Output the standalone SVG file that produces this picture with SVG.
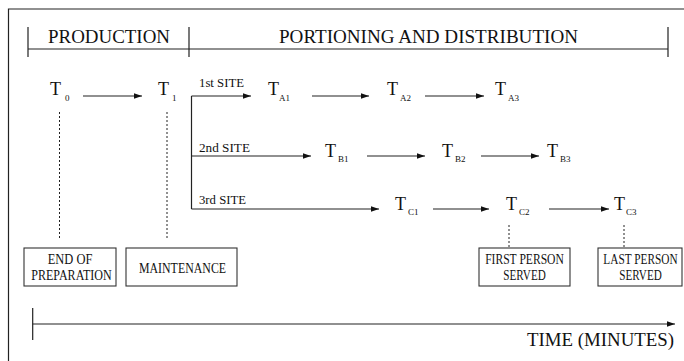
<svg xmlns="http://www.w3.org/2000/svg" width="684" height="361" viewBox="0 0 684 361">
<defs>
<marker id="ah" markerWidth="9" markerHeight="6" refX="8" refY="3" orient="auto" markerUnits="userSpaceOnUse">
<path d="M0,0.3 L8,3 L0,5.7 Z" fill="#111"/>
</marker>
<style>
text{font-family:"Liberation Serif","Times New Roman",serif;fill:#111}
.hd{font-size:18px}
.t{font-size:18px}
.s{font-size:9px}
.site{font-size:13px}
.bx{font-size:14.5px;text-anchor:middle}
.ln{stroke:#222;stroke-width:1.2;fill:none}
.ar{stroke:#222;stroke-width:1.2;fill:none;marker-end:url(#ah)}
.dash{stroke:#222;stroke-width:1;stroke-dasharray:2,2;fill:none}
.box{fill:#fff;stroke:#333;stroke-width:1.1}
</style>
</defs>
<rect width="684" height="361" fill="#fff"/>
<g id="frame">
<path class="ln" d="M8.5,361 V9 H684" stroke-width="1.5"/>
</g>
<g id="header">
<path class="ln" d="M28,27 V57 M189,27 V57 M668,27 V57 M28,49 H668" stroke="#555"/>
<text class="hd" x="48" y="43" textLength="122" lengthAdjust="spacingAndGlyphs">PRODUCTION</text>
<text class="hd" x="279" y="43" textLength="299" lengthAdjust="spacingAndGlyphs">PORTIONING AND DISTRIBUTION</text>
</g>
<g id="connectors">
<path class="ar" d="M83,96 H142"/>
<path class="ln" d="M191.5,96 V209"/>
<path class="ar" d="M191.5,96 H251"/>
<path class="ar" d="M312,96 H369"/>
<path class="ar" d="M425,96 H484"/>
<path class="ar" d="M191.5,156 H311"/>
<path class="ar" d="M367,156 H425"/>
<path class="ar" d="M481,156 H539"/>
<path class="ar" d="M191.5,209 H379"/>
<path class="ar" d="M433,209 H489"/>
<path class="ar" d="M549,209 H609"/>
<path class="dash" d="M59.5,112 V238"/>
<path class="dash" d="M167,112 V238"/>
<path class="dash" d="M509,225 V248"/>
<path class="dash" d="M624,225 V248"/>
<text class="site" x="199" y="87" textLength="45" lengthAdjust="spacingAndGlyphs">1st SITE</text>
<text class="site" x="199" y="152" textLength="51" lengthAdjust="spacingAndGlyphs">2nd SITE</text>
<text class="site" x="199" y="204" textLength="47" lengthAdjust="spacingAndGlyphs">3rd SITE</text>
</g>
<g id="T0"><text class="t" x="50" y="95">T</text><text class="s" x="65" y="101">0</text></g>
<g id="T1"><text class="t" x="158" y="95">T</text><text class="s" x="172" y="101">1</text></g>
<g id="TA1"><text class="t" x="268" y="95">T</text><text class="s" x="279" y="101">A1</text></g>
<g id="TA2"><text class="t" x="387" y="95">T</text><text class="s" x="400" y="101">A2</text></g>
<g id="TA3"><text class="t" x="495" y="95">T</text><text class="s" x="508" y="101">A3</text></g>
<g id="TB1"><text class="t" x="325" y="157">T</text><text class="s" x="338" y="162">B1</text></g>
<g id="TB2"><text class="t" x="442" y="157">T</text><text class="s" x="455" y="162">B2</text></g>
<g id="TB3"><text class="t" x="547" y="157">T</text><text class="s" x="560" y="162">B3</text></g>
<g id="TC1"><text class="t" x="395" y="210">T</text><text class="s" x="408" y="215">C1</text></g>
<g id="TC2"><text class="t" x="506" y="210">T</text><text class="s" x="519" y="215">C2</text></g>
<g id="TC3"><text class="t" x="614" y="210">T</text><text class="s" x="626" y="215">C3</text></g>
<g id="end-of-preparation">
<rect class="box" x="24" y="248" width="92" height="38"/>
<text class="bx" transform="translate(70,264) scale(0.86,1)">END OF</text>
<text class="bx" transform="translate(71.5,280) scale(0.83,1)">PREPARATION</text>
</g>
<g id="maintenance">
<rect class="box" x="126" y="248" width="111" height="38"/>
<text class="bx" transform="translate(182.5,273) scale(0.82,1)">MAINTENANCE</text>
</g>
<g id="first-person-served">
<rect class="box" x="479" y="248" width="91" height="38"/>
<text class="bx" transform="translate(524.5,264) scale(0.8,1)">FIRST PERSON</text>
<text class="bx" transform="translate(524.5,280) scale(0.77,1)">SERVED</text>
</g>
<g id="last-person-served">
<rect class="box" x="598" y="248" width="84" height="38"/>
<text class="bx" transform="translate(640.5,264) scale(0.78,1)">LAST PERSON</text>
<text class="bx" transform="translate(640.5,280) scale(0.77,1)">SERVED</text>
</g>
<g id="timeline">
<path class="ln" d="M32.7,308 V340" stroke="#555"/>
<path class="ar" d="M32.7,324 H675" stroke="#555"/>
<text class="hd" x="527" y="346" textLength="147" lengthAdjust="spacingAndGlyphs">TIME (MINUTES)</text>
</g>
</svg>
